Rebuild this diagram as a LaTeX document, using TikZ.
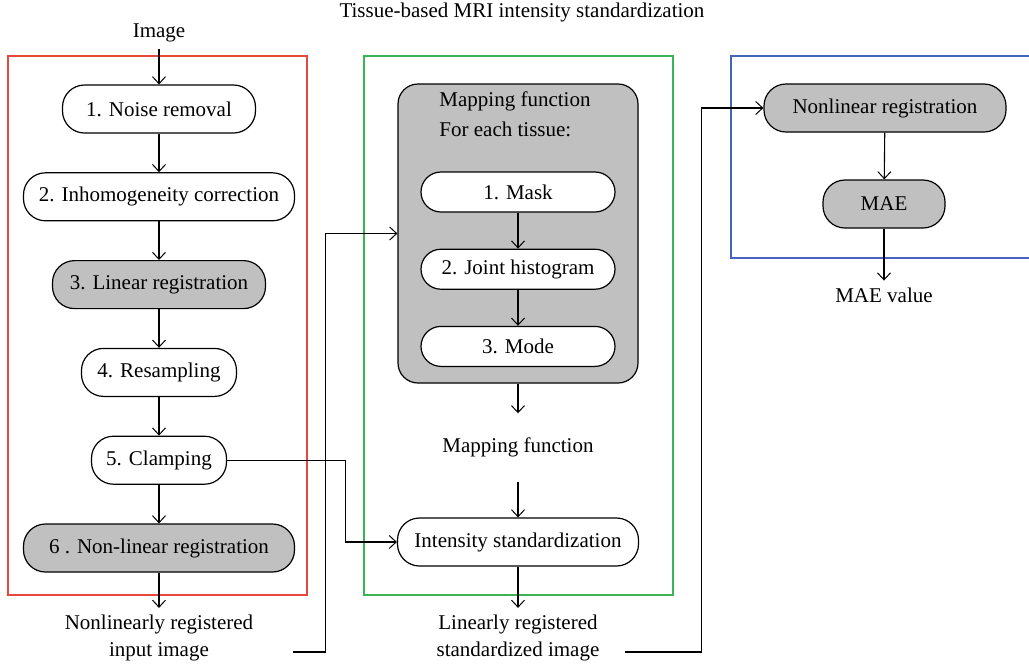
\documentclass[tikz,border=0pt]{standalone}
\usepackage{fontspec}
\setmainfont{Liberation Serif}
\usetikzlibrary{arrows.meta, positioning, calc}
\definecolor{framered}{RGB}{232,72,60}
\definecolor{framegreen}{RGB}{60,180,85}
\definecolor{frameblue}{RGB}{70,100,190}
\definecolor{boxgray}{RGB}{192,192,192}

\begin{document}
\begin{tikzpicture}[
  x=0.5pt, y=-0.5pt,
  node distance=19.3pt,
  font=\fontsize{10.5}{13.5}\selectfont,
  stepbox/.style={rectangle, rounded corners=11pt, minimum height=24pt, align=center, draw=black, line width=0.6pt, fill=white},
  graystep/.style={stepbox, fill=boxgray},
  substep/.style={stepbox, rounded corners=10pt, minimum height=20pt, minimum width=97pt},
  arrow/.style={-{Straight Barb[length=3.5pt, width=6.5pt, line width=0.5pt]}, line width=0.55pt},
  label/.style={align=center},
  frame/.style={line width=0.7pt}
]
  \useasboundingbox (0,0) rectangle (1029,665);

  % Title and input
  \node[label] (title) at (522,12) {Tissue-based MRI intensity standardization};
  \node[label] (img) at (159,33) {Image};

  % Frames
  \draw[frame, framered] (8,56) rectangle (307,595);
  \draw[frame, framegreen] (364,56) rectangle (673,595);
  \draw[frame, frameblue] (1029,56) -- (731,56) -- (731,258) -- (1029,258);

  % Preprocessing
  \node[stepbox, minimum width=96.5pt] (noise) at (159,109) {1. Noise removal};
  \node[stepbox, minimum width=135.5pt, below=of noise] (inhom) {2. Inhomogeneity correction};
  \node[graystep, minimum width=106.5pt, below=of inhom] (linreg) {3. Linear registration};
  \node[stepbox, minimum width=77.5pt, below=of linreg] (resamp) {4. Resampling};
  \node[stepbox, minimum width=67.5pt, below=of resamp] (clamp) {5. Clamping};
  \node[graystep, minimum width=135.5pt, below=of clamp] (nonlin) {6 . Non-linear registration};
  \node[label] (nonlinout) at (159,638) {Nonlinearly registered\\input image};

  \draw[arrow] (img) -- (noise);
  \draw[arrow] (noise) -- (inhom);
  \draw[arrow] (inhom) -- (linreg);
  \draw[arrow] (linreg) -- (resamp);
  \draw[arrow] (resamp) -- (clamp);
  \draw[arrow] (clamp) -- (nonlin);
  \draw[arrow] (nonlin) -- (nonlinout);

  % Mapping function
  \node[graystep, rounded corners=10pt, minimum width=120pt, minimum height=149.5pt] (mapbox) at (518,233.5) {};
  \node[label, align=left, anchor=west] (maphead) at ($(mapbox.north west)+(35,31)$) {Mapping function\\[1.5pt]For each tissue:};
  \node[substep] (mask) at (518,192) {1. Mask};
  \node[substep, below=18pt of mask] (joint) {2. Joint histogram};
  \node[substep, below=18pt of joint] (mode) {3. Mode};
  \node[label] (mapout) at (518,447) {Mapping function};
  \node[stepbox, minimum width=120.5pt] (intens) at (518,542) {Intensity standardization};
  \node[label] (linout) at (518,638) {Linearly registered\\standardized image};

  \draw[arrow] (mask) -- (joint);
  \draw[arrow] (joint) -- (mode);
  \draw[arrow, shorten >=8.5pt] (mapbox) -- (mapout);
  \draw[arrow, shorten <=9pt] (mapout) -- (intens);
  \draw[arrow] (intens) -- (linout);
  \draw[arrow] ([xshift=16.5pt, yshift=-7pt]nonlinout.east) -| ($(mapbox.west)+(-72,0)$) -- (mapbox.west);
  \draw[arrow] (clamp.east) -- ++(118,0) |- (intens.west);

  % Evaluation
  \node[graystep, minimum width=121pt] (nlreg) at (885,108) {Nonlinear registration};
  \node[graystep, minimum width=61pt] (mae) at (884,204) {MAE};
  \node[label] (maeout) at (884,295) {MAE value};

  \draw[arrow] (nlreg) -- (mae);
  \draw[arrow] (mae) -- (maeout);
  \draw[arrow] ([xshift=9.5pt, yshift=-7pt]linout.east) -| ($(nlreg.west)+(-62,0)$) -- (nlreg.west);
\end{tikzpicture}
\end{document}
